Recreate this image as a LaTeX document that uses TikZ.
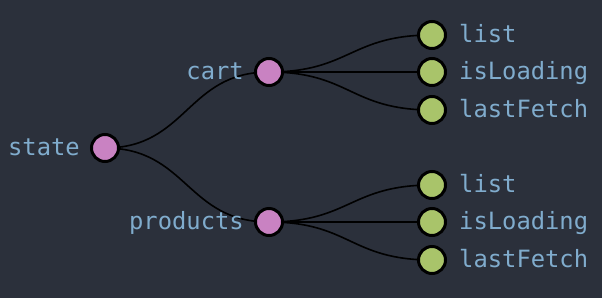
\documentclass[tikz,border=0pt]{standalone}
\usepackage{fontspec}
\setmonofont{DejaVu Sans Mono}
\definecolor{bg}{HTML}{2B303B}
\definecolor{txt}{HTML}{80ACCD}
\definecolor{pinkfill}{HTML}{C982C2}
\definecolor{greenfill}{HTML}{A9C46A}
\begin{document}
\begin{tikzpicture}[x=1pt,y=-1pt,
  inner/.style={circle,draw=black,line width=3pt,fill=pinkfill,minimum size=27pt,inner sep=0pt},
  leaf/.style={circle,draw=black,line width=3pt,fill=greenfill,minimum size=27pt,inner sep=0pt},
  lbl/.style={text=txt,font=\ttfamily\fontsize{23.8}{24}\selectfont,inner sep=0pt},
  link/.style={draw=black,line width=1.6pt}]
\fill[bg] (0,0) rectangle (602,298);
\useasboundingbox (0,0) rectangle (602,298);
% coordinates
\coordinate (cs) at (105,148);
\coordinate (cc) at (269,72);
\coordinate (cp) at (269,222);
\coordinate (c1) at (432,35);
\coordinate (c2) at (432,72);
\coordinate (c3) at (432,110);
\coordinate (c4) at (432,185);
\coordinate (c5) at (432,222);
\coordinate (c6) at (432,260);
% links
\draw[link] (cs) .. controls (187,148) and (187,72) .. (cc);
\draw[link] (cs) .. controls (187,148) and (187,222) .. (cp);
\foreach \c in {c1,c2,c3}{\draw[link] (cc) .. controls (350,72) and (350,0|-\c) .. (\c);}
\foreach \c in {c4,c5,c6}{\draw[link] (cp) .. controls (350,222) and (350,0|-\c) .. (\c);}
% nodes
\node[inner] (state) at (cs) {};
\node[inner] (cart) at (cc) {};
\node[inner] (products) at (cp) {};
\node[leaf] (l1) at (c1) {};
\node[leaf] (l2) at (c2) {};
\node[leaf] (l3) at (c3) {};
\node[leaf] (l4) at (c4) {};
\node[leaf] (l5) at (c5) {};
\node[leaf] (l6) at (c6) {};
% labels
\node[lbl,anchor=base east] (tstate) at ([xshift=-10pt,yshift=-7.5pt]state.west) {state};
\node[lbl,anchor=base east] (tcart) at ([xshift=-10pt,yshift=-7.5pt]cart.west) {cart};
\node[lbl,anchor=base east] (tproducts) at ([xshift=-10pt,yshift=-7.5pt]products.west) {products};
\node[lbl,anchor=base west] (t1) at ([xshift=12pt,yshift=-7.5pt]l1.east) {list};
\node[lbl,anchor=base west] (t2) at ([xshift=12pt,yshift=-7.5pt]l2.east) {isLoading};
\node[lbl,anchor=base west] (t3) at ([xshift=12pt,yshift=-7.5pt]l3.east) {lastFetch};
\node[lbl,anchor=base west] (t4) at ([xshift=12pt,yshift=-7.5pt]l4.east) {list};
\node[lbl,anchor=base west] (t5) at ([xshift=12pt,yshift=-7.5pt]l5.east) {isLoading};
\node[lbl,anchor=base west] (t6) at ([xshift=12pt,yshift=-7.5pt]l6.east) {lastFetch};
\end{tikzpicture}
\end{document}
